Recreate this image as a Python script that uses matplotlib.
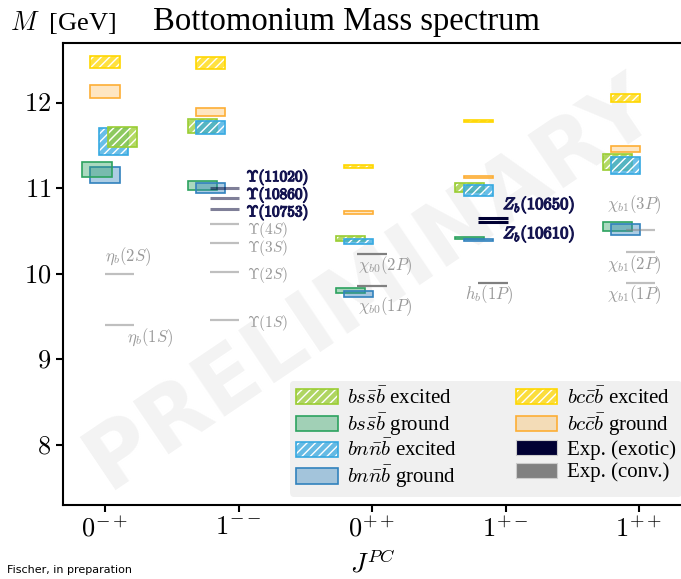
import matplotlib
matplotlib.use('Agg')
import matplotlib.pyplot as plt
import matplotlib.patheffects as pe
from matplotlib.patches import Patch
from matplotlib.colors import to_rgba

plt.rcParams['mathtext.fontset'] = 'cm'
plt.rcParams['font.family'] = 'Liberation Serif'

jpc = ['$0^{-+}$', '$1^{--}$', '$0^{++}$', '$1^{+-}$', '$1^{++}$']

# band centre and half width (GeV) for every J^PC
bss_exc_m = [11.60, 11.73, 10.41, 11.01, 11.305]
bss_exc_d = [0.115, 0.08, 0.03, 0.055, 0.095]
bss_gnd_m = [11.22, 11.03, 9.81, 10.42, 10.555]
bss_gnd_d = [0.085, 0.05, 0.03, 0.012, 0.055]
bnn_exc_m = [11.545, 11.71, 10.38, 10.975, 11.27]
bnn_exc_d = [0.155, 0.08, 0.03, 0.065, 0.10]
bnn_gnd_m = [11.155, 11.005, 9.765, 10.40, 10.52]
bnn_gnd_d = [0.095, 0.055, 0.035, 0.012, 0.06]
bcc_exc_m = [12.48, 12.465, 11.255, 11.785, 12.055]
bcc_exc_d = [0.07, 0.065, 0.02, 0.015, 0.05]
bcc_gnd_m = [12.13, 11.89, 10.72, 11.13, 11.46]
bcc_gnd_d = [0.08, 0.045, 0.02, 0.013, 0.03]

# experimental states: column, label, mass, exotic?
exp_col = [0, 0, 1, 1, 1, 1, 1, 1, 1, 2, 2, 3, 3, 3, 4, 4, 4]
exp_name = [r'$\eta_b(2S)$', r'$\eta_b(1S)$',
            r'$\Upsilon(1S)$', r'$\Upsilon(2S)$', r'$\Upsilon(3S)$', r'$\Upsilon(4S)$',
            r'$\Upsilon(10753)$', r'$\Upsilon(10860)$', r'$\Upsilon(11020)$',
            r'$\chi_{b0}(1P)$', r'$\chi_{b0}(2P)$',
            r'$h_b(1P)$', r'$Z_b(10610)$', r'$Z_b(10650)$',
            r'$\chi_{b1}(1P)$', r'$\chi_{b1}(2P)$', r'$\chi_{b1}(3P)$']
exp_mass = [9.999, 9.399, 9.460, 10.023, 10.355, 10.579, 10.753, 10.885, 11.000,
            9.859, 10.232, 9.899, 10.607, 10.652, 9.893, 10.255, 10.512]
exp_exotic = [False, False, False, False, False, False, True, True, True,
              False, False, False, True, True, False, False, False]

# where each label sits: x offset from column, y position
lab_dx = [0.0, 0.165, 0.06, 0.06, 0.06, 0.06, 0.06, 0.06, 0.06,
          -0.105, -0.105, -0.30, -0.02, -0.02, -0.24, -0.24, -0.24]
lab_y = [10.20, 9.25, 9.43, 9.99, 10.30, 10.51, 10.72, 10.925, 11.13,
         9.615, 10.095, 9.755, 10.47, 10.81, 9.755, 10.105, 10.81]
line_dx = [0.11, -0.105, 0.0, -0.095, 0.01]
solid = [r'$\chi_{b0}(1P)$', r'$\chi_{b0}(2P)$', r'$h_b(1P)$',
         r'$Z_b(10610)$', r'$Z_b(10650)$']

c_bss, c_bss_g = '#9acd32', '#2ca25f'
c_bnn, c_bnn_g = '#36a9e1', '#3182bd'
c_bcc, c_bcc_g = '#ffd700', '#fdae35'
c_exo, c_conv = '#000033', '#808080'

W = 0.22
off_a = [0.13, -0.27, -0.16, -0.27, -0.16]
off_b = [0.065, -0.21, -0.10, -0.20, -0.10]
off_g = [-0.06, -0.27, -0.16, -0.27, -0.16]
off_n = [0.0, -0.21, -0.10, -0.20, -0.10]

fig = plt.figure(figsize=(6.81, 5.79), dpi=100)
ax = fig.add_axes([0.0925, 0.128, 0.9105, 0.798])

ax.text(0.545, 0.51, 'PRELIMINARY', transform=fig.transFigure, rotation=34,
        fontsize=63, fontweight='bold', family='DejaVu Sans', color='#f3f3f3',
        ha='center', va='center', zorder=0.5)


def excited(x, m, d, col, z):
    h = [2 * v for v in d]
    b = [a - v for a, v in zip(m, d)]
    ax.bar(x, h, width=W, bottom=b, facecolor=to_rgba(col, 0.75),
           edgecolor='white', hatch='////', lw=0, zorder=z)
    ax.bar(x, h, width=W, bottom=b, fill=False, edgecolor=col, lw=1.2, zorder=z)


def ground(x, m, d, col, alpha, z):
    ax.bar(x, [2 * v for v in d], width=W, bottom=[a - v for a, v in zip(m, d)],
           facecolor=to_rgba(col, alpha), edgecolor=col, lw=1.2, zorder=z)


cols = range(5)
for i in cols:
    zb = 4 if i == 0 else 2
    excited([i + off_a[i]], [bss_exc_m[i]], [bss_exc_d[i]], c_bss, zb)
    ground([i + off_g[i]], [bss_gnd_m[i]], [bss_gnd_d[i]], c_bss_g, 0.4, zb)
excited([i + off_b[i] for i in cols], bnn_exc_m, bnn_exc_d, c_bnn, 3)
ground([i + off_n[i] for i in cols], bnn_gnd_m, bnn_gnd_d, c_bnn_g, 0.4, 3)
excited([i + off_n[i] for i in cols], bcc_exc_m, bcc_exc_d, c_bcc, 3)
ground([i + off_n[i] for i in cols], bcc_gnd_m, bcc_gnd_d, c_bcc_g, 0.3, 3)

for c, name, m, exo, dx, ly in zip(exp_col, exp_name, exp_mass, exp_exotic, lab_dx, lab_y):
    xc = c + line_dx[c]
    ax.hlines(m, xc - W / 2, xc + W / 2, color=c_exo if exo else c_conv,
              alpha=1.0 if name in solid else 0.5, lw=2.2 if exo else 1.6, zorder=5)
    t = ax.text(c + dx, ly, name, fontsize=11 if c == 1 else 12, va='center', ha='left',
                color='#141450' if exo else '#999999', zorder=6)
    if exo:
        t.set_path_effects([pe.withStroke(linewidth=0.9, foreground='#141450')])

ax.set_xlim(-0.315, 4.33)
ax.set_ylim(7.3, 12.7)
ax.set_xticks(list(cols))
ax.set_xticklabels(jpc)
ax.set_yticks([8, 9, 10, 11, 12])
ax.set_yticklabels(['$8$', '$9$', '$10$', '$11$', '$12$'])
ax.tick_params(labelsize=19, width=1.5, length=5)
for s in ax.spines.values():
    s.set_linewidth(1.5)
ax.set_xlabel('$J^{PC}$', fontsize=19, labelpad=5)

handles = [(Patch(facecolor=to_rgba(c_bss, 0.75), edgecolor='white', hatch='////', lw=0),
            Patch(fill=False, edgecolor=c_bss, lw=1.2)),
           Patch(facecolor=to_rgba(c_bss_g, 0.4), edgecolor=c_bss_g, lw=1.2),
           (Patch(facecolor=to_rgba(c_bnn, 0.75), edgecolor='white', hatch='////', lw=0),
            Patch(fill=False, edgecolor=c_bnn, lw=1.2)),
           Patch(facecolor=to_rgba(c_bnn_g, 0.4), edgecolor=c_bnn_g, lw=1.2),
           (Patch(facecolor=to_rgba(c_bcc, 0.75), edgecolor='white', hatch='////', lw=0),
            Patch(fill=False, edgecolor=c_bcc, lw=1.2)),
           Patch(facecolor=to_rgba(c_bcc_g, 0.3), edgecolor=c_bcc_g, lw=1.2),
           Patch(facecolor=c_exo, edgecolor='#cccccc', lw=0.8),
           Patch(facecolor=c_conv, edgecolor='#cccccc', lw=0.8)]
labels = [r'$bs\bar{s}\bar{b}$ excited', r'$bs\bar{s}\bar{b}$ ground',
          r'$bn\bar{n}\bar{b}$ excited', r'$bn\bar{n}\bar{b}$ ground',
          r'$bc\bar{c}\bar{b}$ excited', r'$bc\bar{c}\bar{b}$ ground',
          'Exp. (exotic)', 'Exp. (conv.)']
leg = ax.legend(handles, labels, ncol=2, loc='lower right', fontsize=15,
                facecolor='#f0f0f0', edgecolor='none', framealpha=1,
                handlelength=2.0, handleheight=0.75, labelspacing=0.12,
                handletextpad=0.45, columnspacing=2.8, borderpad=0.3,
                borderaxespad=0, bbox_to_anchor=(0.998, 0.018))
leg.set_zorder(10)

fig.text(0.225, 0.962, 'Bottomonium Mass spectrum', fontsize=23.5, va='center', ha='left')
fig.text(0.014, 0.962, '$M$  [GeV]', fontsize=19, va='center', ha='left')
fig.text(0.01, 0.015, 'Fischer, in preparation', fontsize=8, family='DejaVu Sans',
         va='center', ha='left')

fig.savefig('out.png', dpi=100)
